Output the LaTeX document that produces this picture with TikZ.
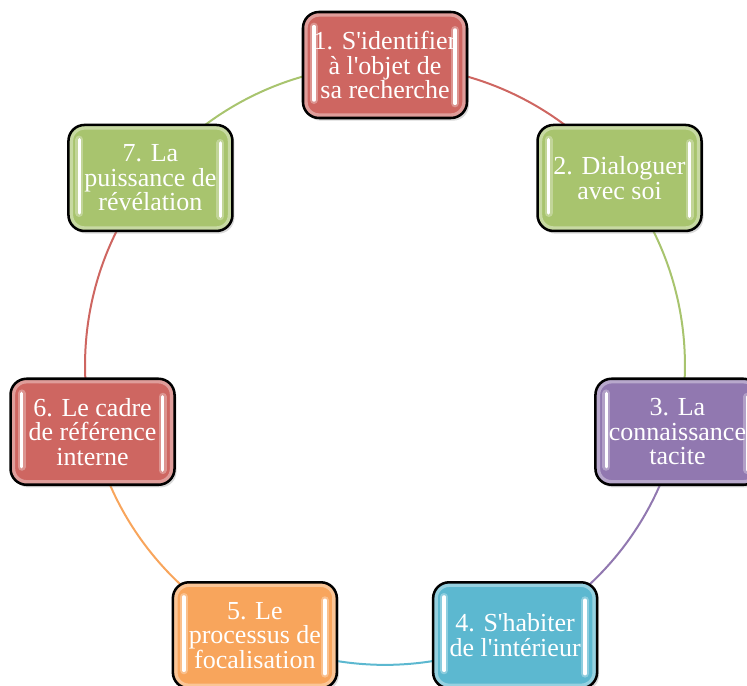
\documentclass[tikz,border=0pt]{standalone}
\usepackage{fontspec}
\setmainfont{Liberation Serif}
\usetikzlibrary{calc,shadows,backgrounds}
\definecolor{crouge}{RGB}{206,102,97}
\definecolor{cvert}{RGB}{168,196,110}
\definecolor{cviolet}{RGB}{145,120,176}
\definecolor{cbleu}{RGB}{92,184,208}
\definecolor{corange}{RGB}{248,165,92}
\newcommand{\ap}{\textquotesingle}
\tikzset{
 etape/.style={rectangle, rounded corners=12pt, draw=black, line width=1.9pt,
  fill=#1, minimum width=123pt, minimum height=79.5pt, inner sep=0pt,
  text=white, align=center, font=\fontsize{19.5pt}{18.4pt}\selectfont,
  drop shadow={shadow xshift=1.5pt, shadow yshift=-2pt, opacity=.3},
  path picture={
   \draw[#1!40!white, opacity=.6, line width=7pt, rounded corners=12pt]
    (path picture bounding box.north west) rectangle (path picture bounding box.south east);
   % reflets verticaux
   \draw[white, opacity=.3, line width=6pt, line cap=round]
    ($(path picture bounding box.north west)+(8.25pt,-11pt)$) -- ($(path picture bounding box.south west)+(8.25pt,13.5pt)$)
    ($(path picture bounding box.north east)+(-9pt,-13.5pt)$) -- ($(path picture bounding box.south east)+(-9pt,11pt)$);
   \draw[white, line width=2.6pt, line cap=round]
    ($(path picture bounding box.north west)+(8.25pt,-11pt)$) -- ($(path picture bounding box.south west)+(8.25pt,13.5pt)$)
    ($(path picture bounding box.north east)+(-9pt,-13.5pt)$) -- ($(path picture bounding box.south east)+(-9pt,11pt)$);
  }},
 lien/.style={line width=1.5pt, bend left=25.7, looseness=0.896}
}
\begin{document}
\begin{tikzpicture}[x=0.75pt,y=0.75pt]
\useasboundingbox (-385,-321) rectangle (362,365);

\node[etape=crouge] (e1) at (90:300) {1. S\ap identifier\\à l\ap objet de\\sa recherche};
\node[etape=cvert] (e2) at (38.57:300) {2. Dialoguer\\avec soi};
\node[etape=cviolet] (e3) at (-12.86:300) {3. La\\connaissance\\tacite};
\node[etape=cbleu] (e4) at (-64.29:300) {4. S\ap habiter\\de l\ap intérieur};
\node[etape=corange] (e5) at (-115.71:300) {5. Le\\processus de\\focalisation};
\node[etape=crouge] (e6) at (-167.14:300) {6. Le cadre\\de référence\\interne};
\node[etape=cvert] (e7) at (141.43:300) {7. La\\puissance de\\révélation};

% arcs du cercle, sous les cases
\begin{scope}[on background layer]
\draw[lien, crouge] (e1.center) to (e2.center);
\draw[lien, cvert] (e2.center) to (e3.center);
\draw[lien, cviolet] (e3.center) to (e4.center);
\draw[lien, cbleu] (e4.center) to (e5.center);
\draw[lien, corange] (e5.center) to (e6.center);
\draw[lien, crouge] (e6.center) to (e7.center);
\draw[lien, cvert] (e7.center) to (e1.center);
\end{scope}
\end{tikzpicture}
\end{document}
